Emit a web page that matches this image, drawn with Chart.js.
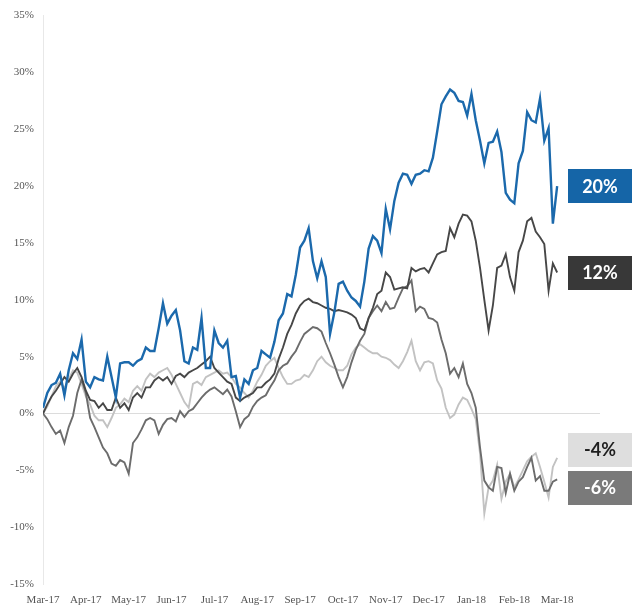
<!DOCTYPE html>
<html>
<head>
<meta charset="utf-8">
<script src="https://cdn.jsdelivr.net/npm/chart.js@4/dist/chart.umd.min.js"></script>
<style>
  html, body { margin: 0; padding: 0; background: #fff; }
  #wrap { width: 640px; height: 615px; }
</style>
</head>
<body>
<div id="wrap"><canvas id="perfChart" width="640" height="615"></canvas></div>
<script>
// month tick labels, one per month starting Mar-17
const monthLabels = ["Mar-17", "Apr-17", "May-17", "Jun-17", "Jul-17", "Aug-17", "Sep-17",
                     "Oct-17", "Nov-17", "Dec-17", "Jan-18", "Feb-18", "Mar-18"];

// cumulative return (%), sampled every 0.1 month from Mar-17
const blueReturns = [
  0.5, 1.8, 2.5, 2.7, 3.5, 1.6, 3.8, 5.3, 4.8, 6.5,
  2.8, 2.3, 3.2, 3.0, 2.9, 5.0, 3.2, 1.4, 4.4, 4.5,
  4.5, 4.2, 4.6, 4.8, 5.8, 5.5, 5.5, 7.5, 9.7, 7.9,
  8.6, 9.1, 7.3, 4.6, 4.4, 5.8, 5.6, 8.4, 4.0, 4.0,
  7.3, 6.2, 5.8, 6.4, 3.2, 3.3, 1.4, 3.0, 2.6, 3.8,
  4.0, 5.5, 5.2, 4.9, 6.3, 8.2, 8.8, 10.5, 10.3, 12.2,
  14.6, 15.2, 16.3, 13.4, 11.9, 13.4, 12.0, 7.0, 8.9, 11.4,
  11.6, 10.8, 10.2, 9.9, 9.4, 11.6, 14.5, 15.6, 15.2, 14.1,
  18.0, 16.2, 18.7, 20.3, 21.1, 21.0, 20.2, 21.0, 21.1, 21.4,
  21.3, 22.5, 24.8, 27.2, 27.9, 28.5, 28.2, 27.5, 27.4, 26.2,
  28.1, 25.8, 24.0, 22.0, 23.8, 23.9, 24.8, 23.0, 19.4, 18.8,
  18.5, 22.0, 23.1, 26.5, 25.8, 25.6, 27.7, 24.0, 25.1, 16.7,
  20.0
];
const darkReturns = [
  0.0, 0.8, 1.5, 2.0, 2.6, 3.2, 2.8, 3.5, 4.0, 3.2,
  2.0, 1.2, 1.1, 0.5, 0.9, 0.3, 0.3, 1.4, 0.5, 0.9,
  0.3, 1.4, 1.8, 1.4, 2.3, 2.3, 2.9, 3.2, 2.9, 3.2,
  2.6, 3.3, 3.5, 3.2, 3.6, 3.8, 4.0, 4.3, 4.6, 5.0,
  4.0, 3.6, 3.2, 2.8, 2.6, 1.4, 1.1, 1.4, 1.6, 1.8,
  2.3, 2.3, 2.7, 3.0, 3.5, 4.8, 5.8, 7.0, 7.8, 8.8,
  9.5, 9.9, 10.1, 9.8, 9.7, 9.5, 9.3, 9.2, 9.0, 9.1,
  9.0, 8.9, 8.7, 8.4, 7.5, 7.3, 8.4, 9.3, 10.5, 10.8,
  12.4, 12.0, 10.9, 11.0, 11.1, 11.0, 12.8, 12.5, 12.7, 12.8,
  12.4, 13.2, 14.0, 14.2, 14.3, 16.3, 15.5, 16.7, 17.5, 17.4,
  16.9, 15.2, 12.8, 10.0, 7.3, 9.5, 12.8, 13.0, 14.0, 12.0,
  10.8, 14.2, 15.2, 16.9, 17.2, 16.0, 15.5, 14.9, 10.8, 13.2,
  12.4
];
const lightReturns = [
  0.0, 0.6, 1.5, 2.4, 2.8, 2.2, 3.0, 3.8, 3.6, 2.6,
  1.5, 0.8, -0.2, -0.6, -0.6, -1.2, -0.4, 0.5, 0.8, 1.3,
  1.0, 2.0, 2.4, 2.0, 3.0, 3.5, 3.2, 3.6, 3.8, 4.0,
  3.4, 2.6, 1.8, 1.0, 0.5, 2.6, 2.8, 2.5, 3.2, 3.4,
  3.6, 3.8, 3.5, 3.6, 3.2, 2.6, 2.3, 1.8, 1.4, 2.0,
  2.8, 3.4, 4.2, 4.6, 4.9, 4.0, 3.2, 2.6, 2.6, 2.9,
  3.0, 3.4, 3.2, 3.8, 4.6, 5.0, 4.5, 4.2, 4.0, 3.8,
  3.8, 4.2, 5.2, 5.8, 6.1, 5.8, 5.5, 5.3, 5.3, 5.0,
  4.9, 4.7, 4.3, 4.0, 4.6, 5.4, 6.4, 4.6, 3.8, 4.5,
  4.6, 4.4, 2.9, 2.2, 0.5, -0.4, -0.1, 0.8, 1.4, 1.2,
  0.4, -0.5, -3.5, -8.8, -6.5, -5.9, -4.5, -7.5, -6.0, -5.3,
  -6.5, -5.8, -5.0, -4.2, -3.8, -3.5, -4.7, -6.0, -7.4, -4.7,
  -3.9
];
const midReturns = [
  0.0, -0.5, -1.2, -1.8, -1.5, -2.6, -1.2, -0.2, 1.8, 3.0,
  1.8, -0.4, -1.2, -2.1, -3.0, -3.5, -4.4, -4.6, -4.1, -4.3,
  -5.3, -2.6, -2.1, -1.4, -0.6, -0.4, -0.6, -1.8, -1.0, -0.5,
  -0.4, -0.7, 0.2, -0.3, 0.2, 0.4, 0.9, 1.4, 1.8, 2.1,
  2.3, 2.0, 1.7, 2.1, 1.5, 0.2, -1.2, -0.5, -0.2, 0.6,
  1.1, 1.4, 1.6, 2.3, 2.9, 3.8, 4.2, 4.4, 5.0, 5.5,
  6.3, 7.0, 7.3, 7.6, 7.5, 7.2, 6.2, 5.3, 4.3, 3.2,
  2.3, 3.2, 4.5, 5.6, 6.4, 7.0, 8.4, 9.0, 9.5, 9.0,
  9.8, 9.2, 9.3, 10.2, 11.0, 11.2, 11.7, 9.0, 9.4, 9.2,
  8.4, 8.3, 8.0, 6.5, 5.3, 3.5, 4.0, 3.2, 4.4, 2.6,
  1.8, 0.5, -3.0, -5.9, -6.5, -6.8, -4.7, -4.8, -7.0, -5.3,
  -6.8, -6.0, -5.6, -4.7, -3.9, -5.9, -5.5, -6.8, -6.8, -6.0,
  -5.8
];

const endLabels = ["20%", "12%", "-4%", "-6%"];
const yTicks = [-15, -10, -5, 0, 5, 10, 15, 20, 25, 30, 35];

function toPoints(values) {
  return values.map((v, i) => ({ x: i / 10, y: v }));
}

const series = [
  { label: "20%", data: blueReturns,  line: "#1b69ac", box: "#1565a7", text: "#ffffff", width: 2.4 },
  { label: "12%", data: darkReturns,  line: "#474747", box: "#383838", text: "#ffffff", width: 1.9 },
  { label: "-6%", data: midReturns,   line: "#6c6c6c", box: "#7a7a7a", text: "#ffffff", width: 1.9 },
  { label: "-4%", data: lightReturns, line: "#c2c2c2", box: "#dedede", text: "#1e1e1e", width: 1.9 },
];

// boxes with the last value of each line, pushed apart when they overlap
const endLabelPlugin = {
  id: "endLabels",
  afterDatasetsDraw(chart) {
    const { ctx, scales } = chart;
    const boxW = 64, boxH = 34, gap = 4, boxX = 568;
    const items = series.map(s => ({
      s,
      y: scales.y.getPixelForValue(s.data[s.data.length - 1]),
    })).sort((a, b) => a.y - b.y);

    for (let pass = 0; pass < 5; pass++) {
      for (let i = 1; i < items.length; i++) {
        const need = boxH + gap - (items[i].y - items[i - 1].y);
        if (need > 0) {
          items[i - 1].y -= need / 2;
          items[i].y += need / 2;
        }
      }
    }

    ctx.save();
    items.forEach(it => {
      ctx.fillStyle = it.s.box;
      ctx.fillRect(boxX, Math.round(it.y - boxH / 2), boxW, boxH);
      ctx.fillStyle = it.s.text;
      ctx.font = "bold 18px Lato, 'Noto Sans', sans-serif";
      ctx.textAlign = "center";
      ctx.textBaseline = "middle";
      ctx.fillText(it.s.label, boxX + boxW / 2, it.y + 1);
    });
    ctx.restore();
  },
};

new Chart(document.getElementById("perfChart"), {
  type: "line",
  data: {
    datasets: series.map(s => ({
      label: s.label,
      data: toPoints(s.data),
      borderColor: s.line,
      borderWidth: s.width,
      pointRadius: 0,
      tension: 0,
      fill: false,
    })),
  },
  options: {
    responsive: false,
    devicePixelRatio: 1,
    animation: false,
    layout: { padding: { top: 14, right: 40, left: 0, bottom: 0 } },
    plugins: { legend: { display: false }, tooltip: { enabled: false } },
    scales: {
      x: {
        type: "linear",
        min: 0,
        max: 13,
        afterBuildTicks: scale => {
          scale.ticks = monthLabels.map((_, i) => ({ value: i }));
        },
        afterFit: scale => { scale.height = 31; },
        grid: { display: false, drawTicks: false },
        border: { display: false },
        ticks: {
          padding: 10,
          maxRotation: 0,
          autoSkip: false,
          color: "#555",
          font: { family: "'Liberation Serif', 'Times New Roman', serif", size: 11 },
          callback: v => monthLabels[v] ?? "",
        },
      },
      y: {
        min: -15,
        max: 35,
        afterBuildTicks: scale => {
          scale.ticks = yTicks.map(v => ({ value: v }));
        },
        afterFit: scale => { scale.width = 43; },
        grid: {
          drawTicks: false,
          color: ctx => (ctx.tick && ctx.tick.value === 0 ? "#dcdcdc" : "rgba(0,0,0,0)"),
          lineWidth: 1,
        },
        border: { display: true, color: "#e8e8e8" },
        ticks: {
          padding: 9,
          color: "#555",
          font: { family: "'Liberation Serif', 'Times New Roman', serif", size: 11 },
          callback: v => v + "%",
        },
      },
    },
  },
  plugins: [endLabelPlugin],
});
</script>
</body>
</html>
